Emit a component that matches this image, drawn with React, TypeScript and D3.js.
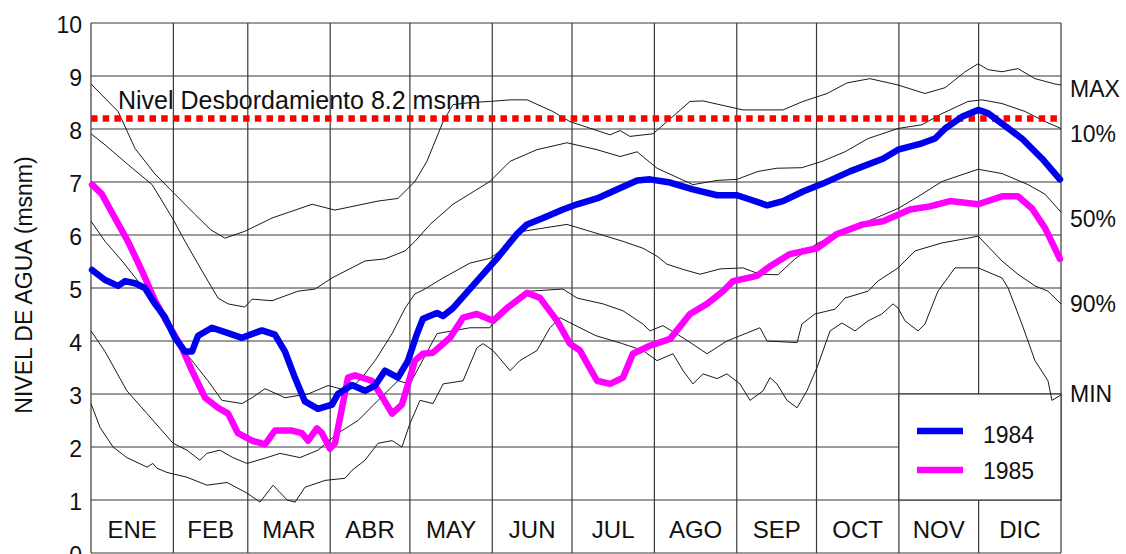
import React from "react";
import * as d3 from "d3";

// Calendar (day of year) and month labels
const meses = ["ENE", "FEB", "MAR", "ABR", "MAY", "JUN", "JUL", "AGO", "SEP", "OCT", "NOV", "DIC"];
const diasMes = [31, 28, 31, 30, 31, 30, 31, 31, 30, 31, 30, 31];
const nivelesY = [0, 1, 2, 3, 4, 5, 6, 7, 8, 9, 10];
const nivelDesborde = 8.2;

// Statistical envelopes of the historical record: [day of year, level msnm]
const curvaMax: [number, number][] = [
  [0, 8.85], [10.2, 8.33], [16.6, 7.63], [24.1, 7.15], [31.6, 6.77], [39.1, 6.39], [45, 6.1], [50.4, 5.94],
  [57.9, 6.07], [68.1, 6.32], [83.2, 6.58], [91.8, 6.47], [108, 6.64], [115.5, 6.69], [121.9, 7.01],
  [126.4, 7.39], [132.5, 8.14], [136.2, 8.46], [143, 8.5], [150.1, 8.52], [157.7, 8.55], [164.1, 8.55],
  [173.8, 8.33], [180.2, 8.14], [195.3, 7.89], [199.1, 7.97], [202.8, 7.86], [211.5, 7.91], [225.4, 8.52],
  [230.3, 8.53], [245.3, 8.36], [260.4, 8.36], [267.9, 8.52], [277, 8.67], [284.5, 8.87], [293.1, 8.95],
  [303.7, 8.83], [313.8, 8.67], [321.4, 8.78], [328.9, 9.08], [333.8, 9.23], [337.5, 9.12], [342.8, 9.08],
  [348.8, 9.14], [355.2, 8.95], [362.7, 8.85], [365, 8.83],
];

const curva10: [number, number][] = [
  [0, 7.91], [5.3, 7.7], [13.9, 7.33], [23, 6.95], [30.5, 6.33], [35.4, 5.88], [41.8, 5.32], [47.8, 4.81],
  [51.6, 4.7], [57.9, 4.64], [60.6, 4.79], [68.1, 4.76], [77.9, 4.94], [84.3, 4.98], [90.7, 5.19],
  [103.1, 5.51], [110.6, 5.55], [118.2, 5.7], [121.9, 5.88], [127.6, 6.2], [136.2, 6.58], [150.1, 7.01],
  [157.7, 7.39], [167.8, 7.61], [179.1, 7.74], [190.4, 7.61], [199.1, 7.48], [205.5, 7.57], [213, 7.26],
  [226.5, 6.95], [235.6, 7.03], [243.1, 7.05], [251, 7.2], [258.1, 7.26], [267.5, 7.27], [275.1, 7.39],
  [283.7, 7.57], [292.4, 7.82], [303.7, 8.01], [312.7, 8.08], [320.2, 8.29], [330, 8.52], [335.3, 8.55],
  [342.8, 8.48], [351.5, 8.33], [359, 8.14], [365, 8.01],
];

const curva50: [number, number][] = [
  [0, 6.26], [5.3, 5.88], [11.7, 5.51], [17.7, 5.13], [23, 4.76], [27.8, 4.32], [32.7, 3.95], [38, 3.63],
  [44, 3.25], [49.3, 2.88], [56.8, 2.82], [60.6, 2.93], [65.5, 3.1], [73, 2.93], [81.7, 3.0], [89.2, 3.16],
  [96.7, 3.06], [102, 3.31], [106.9, 3.63], [113.3, 4.14], [118.2, 4.62], [121.9, 4.89], [124.9, 4.96],
  [132.5, 5.19], [142.6, 5.47], [150.1, 5.56], [157.7, 5.83], [162.6, 6.07], [172.7, 6.15], [179.1, 6.2],
  [190.4, 6.03], [200.2, 5.88], [207.7, 5.75], [213, 5.6], [216.7, 5.45], [222.8, 5.35], [229.2, 5.26],
  [236.7, 5.36], [245.3, 5.38], [251.7, 5.26], [258.5, 5.25], [264.9, 5.55], [273.6, 5.85], [283.7, 6.07],
  [292.4, 6.26], [303.7, 6.5], [312.7, 6.77], [320.2, 7.01], [333.8, 7.24], [342.8, 7.16], [352.6, 6.95],
  [359, 6.77], [365, 6.43],
];

const curva90: [number, number][] = [
  [0, 4.19], [5.3, 3.8], [13.5, 3.06], [21.1, 2.63], [30.9, 2.07], [36.1, 1.94], [41, 1.75], [43.6, 1.88],
  [48.5, 1.94], [53.4, 1.8], [58.7, 1.69], [66.2, 1.8], [71.1, 1.88], [78.6, 1.8], [85.4, 1.94],
  [92.9, 2.26], [100.5, 2.5], [108, 2.88], [115.5, 3.25], [120, 3.19], [130.2, 4.14], [142.6, 4.25],
  [150.1, 4.25], [155, 4.62], [165.2, 4.94], [177.6, 4.98], [182.9, 4.81], [192.7, 4.7], [200.2, 4.57],
  [207.7, 4.32], [210.3, 4.19], [215.2, 4.29], [222.8, 4.06], [231.8, 3.76], [239.3, 4.0], [251.7, 4.25],
  [254.4, 4.0], [265.7, 3.97], [267.5, 4.32], [272.4, 4.51], [280, 4.6], [283.7, 4.81], [292.4, 4.94],
  [296.1, 5.13], [303.7, 5.38], [310.1, 5.7], [320.2, 5.85], [330, 5.94], [333.8, 5.98], [342.8, 5.51],
  [348.8, 5.26], [355.2, 5.04], [360.1, 4.94], [365, 4.7],
];

const curvaMin: [number, number][] = [
  [0, 2.82], [3.4, 2.37], [8.3, 2.0], [13.5, 1.8], [21.1, 1.62], [23.3, 1.69], [24.8, 1.6], [28.6, 1.52],
  [36.1, 1.43], [43.6, 1.28], [51.2, 1.33], [58.7, 1.13], [63.6, 0.96], [68.5, 1.28], [73.8, 1.0],
  [76.8, 0.96], [80.5, 1.24], [88.1, 1.37], [95.6, 1.41], [98.2, 1.56], [103.1, 1.75], [108, 2.07],
  [113.3, 2.12], [117, 2.0], [120, 2.44], [123.8, 2.88], [128.7, 2.82], [132.5, 3.19], [140, 3.25],
  [145.2, 3.87], [147.5, 3.95], [151.3, 3.82], [157.7, 3.44], [161.4, 3.63], [167.8, 3.82], [172.7, 4.25],
  [176.5, 4.44], [182, 4.3], [190, 4.1], [200, 3.95], [207.7, 3.82], [213, 3.63], [219, 3.76],
  [222.8, 3.44], [226.5, 3.19], [230.3, 3.38], [235.6, 3.29], [239.3, 3.38], [244.2, 3.19], [248, 2.88],
  [252.9, 3.06], [255.5, 3.31], [258.1, 3.19], [261.9, 2.88], [265.7, 2.74], [269.4, 3.06], [273.2, 3.5],
  [278.1, 4.19], [282.6, 4.34], [287.5, 4.19], [292.4, 4.38], [297.6, 4.51], [301.8, 4.7], [303.7, 4.62],
  [306.3, 4.38], [311.2, 4.19], [313.8, 4.32], [318.7, 4.94], [325.1, 5.38], [333.8, 5.38], [342.8, 5.19],
  [345.1, 5.0], [350.3, 4.32], [355.2, 3.63], [360.1, 3.25], [361.6, 2.88], [364.6, 2.97], [365, 3.0],
];

// Observed years
const anio1984: [number, number][] = [
  [0.4, 5.34], [5.3, 5.15], [10.2, 5.04], [12.8, 5.13], [16.6, 5.09], [20.3, 5.0], [24.1, 4.7],
  [27.8, 4.45], [31.6, 4.06], [35.4, 3.8], [38, 3.8], [40.3, 4.1], [45.5, 4.25], [51.6, 4.15],
  [56.8, 4.06], [64.3, 4.2], [69.2, 4.12], [73, 3.8], [76.8, 3.3], [80.5, 2.86], [85.4, 2.72],
  [90.7, 2.8], [92.9, 3.0], [98.2, 3.17], [103.1, 3.06], [106.9, 3.16], [110.6, 3.44], [115.5, 3.31],
  [119.3, 3.63], [122.7, 4.14], [124.9, 4.42], [130.2, 4.53], [132.5, 4.47], [136.2, 4.62],
  [145.2, 5.13], [152.8, 5.56], [160.3, 6.02], [164.1, 6.2], [170.1, 6.32], [177.6, 6.48],
  [182.9, 6.58], [190.4, 6.69], [197.9, 6.86], [205.5, 7.03], [210.3, 7.05], [217.9, 6.99],
  [226.5, 6.86], [235.6, 6.75], [243.1, 6.75], [248, 6.67], [254.4, 6.56], [260.4, 6.64],
  [267.9, 6.82], [275.4, 6.97], [285.6, 7.2], [298, 7.44], [303.7, 7.61], [312.7, 7.73],
  [317.6, 7.82], [321.4, 8.01], [327.7, 8.23], [333.8, 8.36], [337.5, 8.3], [342.8, 8.1],
  [350.3, 7.82], [357.9, 7.44], [364.6, 7.05],
];

const anio1985: [number, number][] = [
  [0.4, 6.95], [4.1, 6.77], [9.0, 6.32], [13.9, 5.88], [19.2, 5.32], [24.1, 4.76], [29, 4.32],
  [34.2, 3.87], [38, 3.44], [42.9, 2.93], [47.8, 2.74], [51.6, 2.63], [55.3, 2.26], [60.6, 2.12],
  [65.5, 2.05], [69.2, 2.31], [75.6, 2.31], [79.4, 2.26], [81.7, 2.12], [85, 2.35], [86.9, 2.26],
  [89.9, 1.97], [91.8, 2.07], [96.7, 3.31], [99.3, 3.35], [105.7, 3.25], [109.5, 2.95], [113.3, 2.63],
  [117, 2.8], [121.9, 3.63], [124.9, 3.76], [128.7, 3.78], [135.1, 4.06], [140, 4.44], [145.2, 4.51],
  [151.3, 4.38], [156.5, 4.62], [164.1, 4.91], [169, 4.81], [175.4, 4.38], [180.2, 3.95], [184, 3.82],
  [190.4, 3.25], [195.3, 3.19], [200.2, 3.31], [203.9, 3.76], [210.3, 3.91], [217.9, 4.04],
  [225.4, 4.51], [231.8, 4.7], [237.8, 4.94], [241.6, 5.13], [250.6, 5.23], [255.5, 5.41],
  [263, 5.64], [273.2, 5.75], [280.7, 6.02], [290.5, 6.2], [298, 6.26], [308.2, 6.48], [315.7, 6.54],
  [323.2, 6.64], [333.8, 6.58], [342.8, 6.73], [348.8, 6.73], [354.1, 6.5], [359, 6.13], [364.6, 5.55],
];

const etiquetasCurvas = [
  { texto: "MAX", valor: 8.75 },
  { texto: "10%", valor: 7.9 },
  { texto: "50%", valor: 6.3 },
  { texto: "90%", valor: 4.7 },
  { texto: "MIN", valor: 3.0 },
];

const leyenda = [
  { texto: "1984", color: "#0000f0" },
  { texto: "1985", color: "#ff00ff" },
];

const W = 1126;
const H = 554;
const left = 91;
const right = 1061;
const top = 23;
const bottom = 553;
const font = "'Liberation Sans', Arial, Helvetica, sans-serif";
const gridColor = "#383838";

export default function App() {
  const x = d3.scaleLinear().domain([0, 365]).range([left, right]);
  const y = d3.scaleLinear().domain([0, 10]).range([bottom, top]);
  const line = d3
    .line<[number, number]>()
    .x((d) => x(d[0]))
    .y((d) => y(d[1]))
    .curve(d3.curveLinear);

  const bordes = [0, ...d3.cumsum(diasMes)];
  const centros = diasMes.map((_, i) => (bordes[i] + bordes[i + 1]) / 2);

  const finos = [curvaMax, curva10, curva50, curva90, curvaMin];

  // legend box spans the NOV-DIC columns between levels 1 and 3
  const legX0 = x(bordes[10]);
  const legY0 = y(3);
  const legY1 = y(1);

  return (
    <svg
      width={W}
      height={H}
      style={{ position: "absolute", left: 0, top: 0, display: "block", background: "#fff" }}
      fontFamily={font}
    >
      <rect x={0} y={0} width={W} height={H} fill="#fff" />

      {/* horizontal grid */}
      {nivelesY.map((v) => (
        <line key={"h" + v} x1={left} x2={right} y1={y(v)} y2={y(v)} stroke={gridColor} strokeWidth={1.2} />
      ))}
      {/* month dividers */}
      {bordes.map((d, i) => (
        <line key={"v" + i} x1={x(d)} x2={x(d)} y1={top} y2={bottom} stroke={gridColor} strokeWidth={1.2} />
      ))}

      {/* legend panel */}
      <rect
        x={legX0}
        y={legY0}
        width={right - legX0}
        height={legY1 - legY0}
        fill="#fff"
        stroke={gridColor}
        strokeWidth={1.2}
      />
      {leyenda.map((l, i) => (
        <g key={l.texto}>
          <line
            x1={917}
            x2={963}
            y1={legY0 + 37 + i * 39}
            y2={legY0 + 37 + i * 39}
            stroke={l.color}
            strokeWidth={6.5}
          />
          <text x={983} y={legY0 + 49 + i * 36} fontSize={23} fill="#111">
            {l.texto}
          </text>
        </g>
      ))}

      {/* envelope curves */}
      {finos.map((s, i) => (
        <path key={"f" + i} d={line(s) ?? ""} fill="none" stroke="#1a1a1a" strokeWidth={1} />
      ))}

      {/* overflow level */}
      <line
        x1={left}
        x2={right}
        y1={y(nivelDesborde)}
        y2={y(nivelDesborde)}
        stroke="#ff0000"
        strokeWidth={6.5}
        strokeDasharray="6.5 5.2"
      />
      <text x={118} y={109} fontSize={25} fill="#111">
        Nivel Desbordamiento 8.2 msnm
      </text>

      {/* observed years */}
      <path d={line(anio1985) ?? ""} fill="none" stroke="#ff00ff" strokeWidth={6.5} strokeLinejoin="round" strokeLinecap="round" />
      <path d={line(anio1984) ?? ""} fill="none" stroke="#0000f0" strokeWidth={6.5} strokeLinejoin="round" strokeLinecap="round" />

      {/* y ticks */}
      {nivelesY.map((v) => (
        <text key={"t" + v} x={82} y={y(v) + 10} fontSize={23} textAnchor="end" fill="#111">
          {v}
        </text>
      ))}

      {/* month names */}
      {meses.map((m, i) => (
        <text key={m} x={x(centros[i])} y={538} fontSize={24} textAnchor="middle" fill="#111">
          {m}
        </text>
      ))}

      {/* curve names on the right */}
      {etiquetasCurvas.map((e) => (
        <text key={e.texto} x={1070} y={y(e.valor) + 8} fontSize={23} fill="#111">
          {e.texto}
        </text>
      ))}

      {/* axis title */}
      <text
        transform={`translate(32,285) rotate(-90)`}
        fontSize={23}
        textAnchor="middle"
        fill="#111"
      >
        NIVEL DE AGUA (msnm)
      </text>
    </svg>
  );
}
